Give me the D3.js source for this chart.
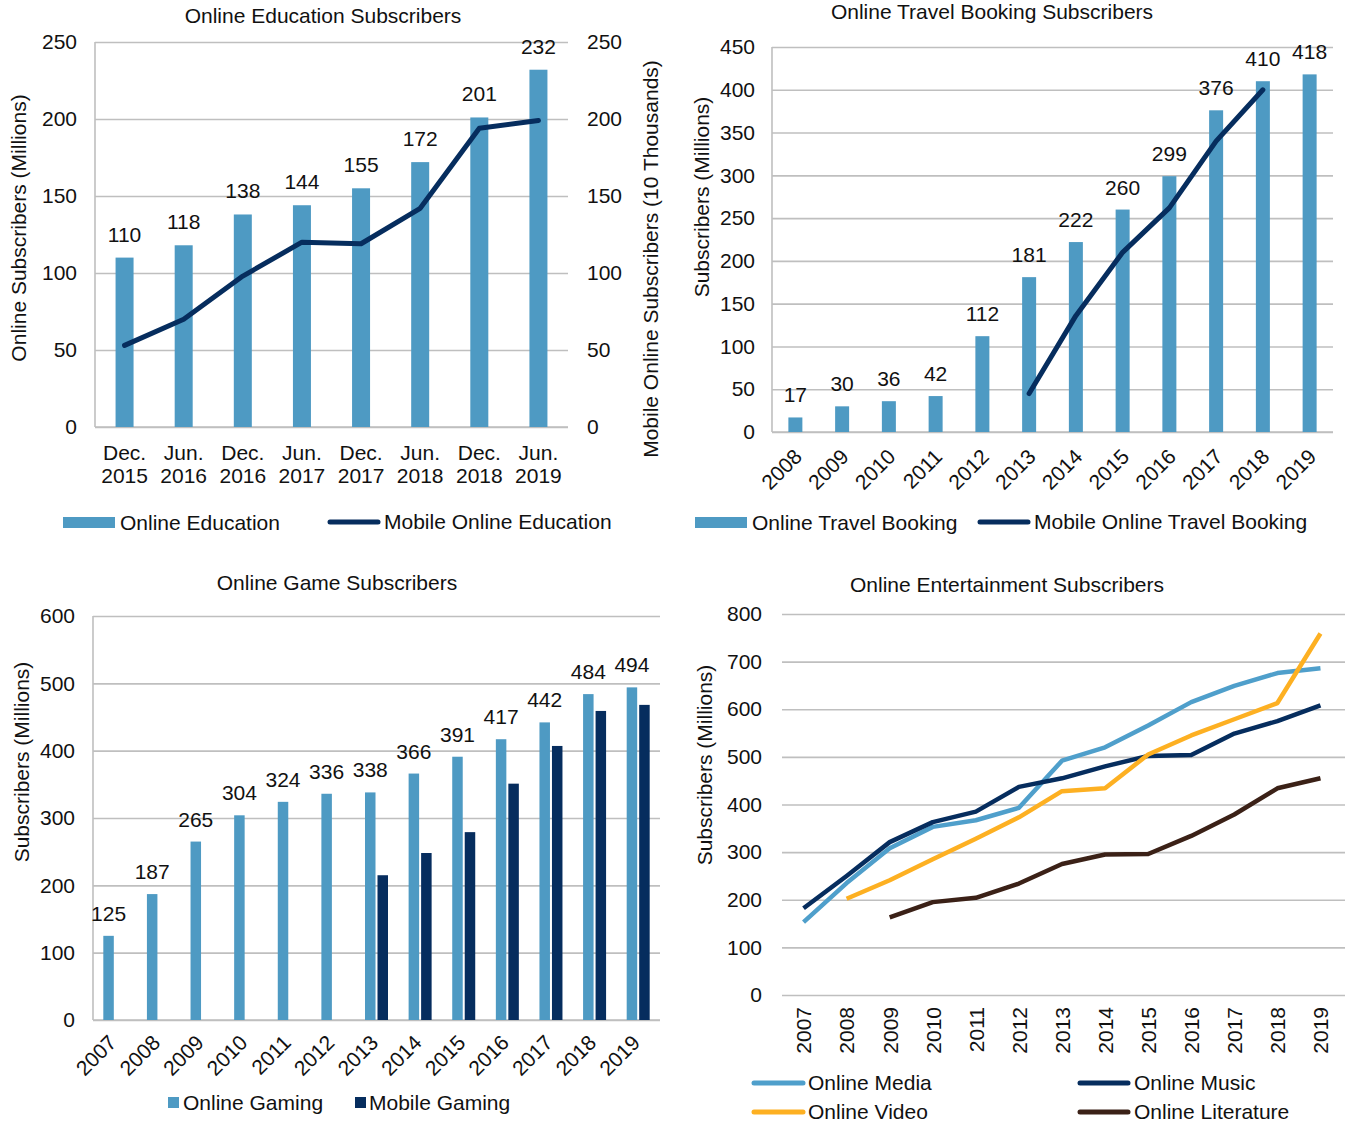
<!DOCTYPE html>
<html>
<head>
<meta charset="utf-8">
<script src="https://cdn.jsdelivr.net/npm/d3@7"></script>
<style>
body{margin:0;background:#fff;}
svg text{font-family:"Liberation Sans",Arial,sans-serif;font-size:21px;fill:#111;}
</style>
</head>
<body>
<svg id="chart" width="1345" height="1122"></svg>
<script>
//Online education (half-yearly)
var eduPeriods = ["Dec. 2015","Jun. 2016","Dec. 2016","Jun. 2017","Dec. 2017","Jun. 2018","Dec. 2018","Jun. 2019"];
var eduOnline = [110,118,138,144,155,172,201,232];
var eduMobile = [53,70,98,120,119,142,194,199];
var eduTicks = [0,50,100,150,200,250];

//Online travel booking
var travelYears = ["2008","2009","2010","2011","2012","2013","2014","2015","2016","2017","2018","2019"];
var travelOnline = [17,30,36,42,112,181,222,260,299,376,410,418];
var travelMobile = [null,null,null,null,null,45,136,210,262,340,400,null];
var travelTicks = [0,50,100,150,200,250,300,350,400,450];

//Online games
var gameYears = ["2007","2008","2009","2010","2011","2012","2013","2014","2015","2016","2017","2018","2019"];
var gameOnline = [125,187,265,304,324,336,338,366,391,417,442,484,494];
var gameMobile = [null,null,null,null,null,null,215,248,279,351,407,459,468];
var gameTicks = [0,100,200,300,400,500,600];

//Online entertainment
var entYears = ["2007","2008","2009","2010","2011","2012","2013","2014","2015","2016","2017","2018","2019"];
var entMedia = [153,235,308,353,367,393,492,520,566,615,649,676,686];
var entMusic = [182,250,321,363,385,437,455,480,502,504,549,575,608];
var entVideo = [null,202,241,285,328,373,428,434,505,545,579,613,759];
var entLiterature = [null,null,163,195,204,234,275,295,296,334,379,434,455];
var entTicks = [0,100,200,300,400,500,600,700,800];

var colors = {
	bar: "#4e9ac3",
	navy: "#062d5e",
	media: "#4f9fcb",
	video: "#fdb022",
	literature: "#3b2117",
	grid: "#bfbfbf"
};

var svg = d3.select("#chart");

//Gridlines + left tick labels, domain removed
function drawGrid(y, x0, x1, ticks, pad){
	var g = svg.append("g")
		.attr("transform", "translate(" + x0 + ",0)")
		.call(d3.axisLeft(y).tickValues(ticks).tickSize(-(x1 - x0)).tickPadding(pad));
	g.select(".domain").remove();
	g.selectAll(".tick line").attr("stroke", colors.grid).attr("stroke-width", 1.6);
	return g;
}

function axisLines(x0, x1, yTop, yBottom){
	svg.append("line").attr("x1", x0).attr("x2", x0).attr("y1", yTop).attr("y2", yBottom)
		.attr("stroke", colors.grid).attr("stroke-width", 1.6);
	svg.append("line").attr("x1", x0).attr("x2", x1).attr("y1", yBottom).attr("y2", yBottom)
		.attr("stroke", colors.grid).attr("stroke-width", 1.6);
}

function title(x, y, str){
	svg.append("text").attr("x", x).attr("y", y).attr("text-anchor", "middle").text(str);
}

function yTitle(x, y, str){
	svg.append("text")
		.attr("text-anchor", "middle")
		.attr("transform", "translate(" + x + "," + y + ") rotate(-90)")
		.text(str);
}

function legendRect(x, y, w, h, color, label, tx){
	svg.append("rect").attr("x", x).attr("y", y).attr("width", w).attr("height", h).attr("fill", color);
	svg.append("text").attr("x", tx).attr("y", y + h / 2).attr("dy", "0.35em").text(label);
}

function legendLine(x1, x2, y, color, label, tx){
	svg.append("line").attr("x1", x1).attr("x2", x2).attr("y1", y).attr("y2", y)
		.attr("stroke", color).attr("stroke-width", 5).attr("stroke-linecap", "round");
	svg.append("text").attr("x", tx).attr("y", y).attr("dy", "0.35em").text(label);
}

//---------- Chart 1: Online Education ----------
(function(){
	var x0 = 95, x1 = 568, yTop = 42, yBottom = 427;
	var x = d3.scaleBand().domain(eduPeriods).range([x0, x1]);
	var y = d3.scaleLinear().domain([0, 250]).range([yBottom, yTop]);
	var yR = d3.scaleLinear().domain([0, 250]).range([yBottom, yTop]);
	var bw = 18;

	drawGrid(y, x0, x1, eduTicks, 18);
	axisLines(x0, x1, yTop, yBottom);

	//Right axis labels
	var r = svg.append("g").attr("transform", "translate(" + x1 + ",0)")
		.call(d3.axisRight(yR).tickValues(eduTicks).tickSize(0).tickPadding(19));
	r.select(".domain").remove();

	svg.append("g").selectAll("rect")
		.data(eduOnline).enter().append("rect")
		.attr("x", function(d, i){ return x(eduPeriods[i]) + x.bandwidth() / 2 - bw / 2; })
		.attr("y", function(d){ return y(d); })
		.attr("width", bw)
		.attr("height", function(d){ return yBottom - y(d); })
		.attr("fill", colors.bar);

	svg.append("path")
		.datum(eduMobile)
		.attr("fill", "none")
		.attr("stroke", colors.navy)
		.attr("stroke-width", 5)
		.attr("stroke-linejoin", "round")
		.attr("stroke-linecap", "round")
		.attr("d", d3.line()
			.x(function(d, i){ return x(eduPeriods[i]) + x.bandwidth() / 2; })
			.y(function(d){ return yR(d); }));

	svg.append("g").selectAll("text")
		.data(eduOnline).enter().append("text")
		.attr("x", function(d, i){ return x(eduPeriods[i]) + x.bandwidth() / 2; })
		.attr("y", function(d){ return y(d) - 16; })
		.attr("text-anchor", "middle")
		.text(function(d){ return d; });

	//Two line category labels
	var xa = svg.append("g").attr("transform", "translate(0," + yBottom + ")")
		.call(d3.axisBottom(x).tickSize(0));
	xa.select(".domain").remove();
	xa.selectAll(".tick text").each(function(d){
		var parts = d.split(" "), t = d3.select(this);
		t.text(null).attr("y", null).attr("dy", null);
		t.append("tspan").attr("x", 0).attr("y", 33).text(parts[0]);
		t.append("tspan").attr("x", 0).attr("y", 56).text(parts[1]);
	});

	title(323, 23, "Online Education Subscribers");
	yTitle(26, 228, "Online Subscribers (Millions)");
	yTitle(658, 259, "Mobile Online Subscribers (10 Thousands)");

	legendRect(63, 517, 52, 11, colors.bar, "Online Education", 120);
	legendLine(330, 378, 522, colors.navy, "Mobile Online Education", 384);
})();

//---------- Chart 2: Online Travel Booking ----------
(function(){
	var x0 = 772, x1 = 1333, yTop = 47, yBottom = 432;
	var x = d3.scaleBand().domain(travelYears).range([x0, x1]);
	var y = d3.scaleLinear().domain([0, 450]).range([yBottom, yTop]);
	var bw = 14;

	drawGrid(y, x0, x1, travelTicks, 17);
	axisLines(x0, x1, yTop, yBottom);

	svg.append("g").selectAll("rect")
		.data(travelOnline).enter().append("rect")
		.attr("x", function(d, i){ return x(travelYears[i]) + x.bandwidth() / 2 - bw / 2; })
		.attr("y", function(d){ return y(d); })
		.attr("width", bw)
		.attr("height", function(d){ return yBottom - y(d); })
		.attr("fill", colors.bar);

	svg.append("path")
		.datum(travelMobile)
		.attr("fill", "none")
		.attr("stroke", colors.navy)
		.attr("stroke-width", 5)
		.attr("stroke-linejoin", "round")
		.attr("stroke-linecap", "round")
		.attr("d", d3.line()
			.defined(function(d){ return d !== null; })
			.x(function(d, i){ return x(travelYears[i]) + x.bandwidth() / 2; })
			.y(function(d){ return y(d); }));

	svg.append("g").selectAll("text")
		.data(travelOnline).enter().append("text")
		.attr("x", function(d, i){ return x(travelYears[i]) + x.bandwidth() / 2; })
		.attr("y", function(d){ return y(d) - 15; })
		.attr("text-anchor", "middle")
		.text(function(d){ return d; });

	var xa = svg.append("g").attr("transform", "translate(0," + yBottom + ")")
		.call(d3.axisBottom(x).tickSize(0));
	xa.select(".domain").remove();
	xa.selectAll(".tick text")
		.attr("y", null).attr("dy", null)
		.attr("text-anchor", "end")
		.attr("transform", "translate(8,26) rotate(-45)");

	title(992, 19, "Online Travel Booking Subscribers");
	yTitle(709, 197, "Subscribers (Millions)");

	legendRect(695, 517, 52, 11, colors.bar, "Online Travel Booking", 752);
	legendLine(980, 1028, 522, colors.navy, "Mobile Online Travel Booking", 1034);
})();

//---------- Chart 3: Online Games ----------
(function(){
	var x0 = 93, x1 = 660, yTop = 616, yBottom = 1020;
	var x = d3.scaleBand().domain(gameYears).range([x0, x1]);
	var y = d3.scaleLinear().domain([0, 600]).range([yBottom, yTop]);
	var bw = 10.5, gap = 1;

	drawGrid(y, x0, x1, gameTicks, 18);
	axisLines(x0, x1, yTop, yBottom);

	svg.append("g").selectAll("rect")
		.data(gameOnline).enter().append("rect")
		.attr("x", function(d, i){ return x(gameYears[i]) + x.bandwidth() / 2 - gap - bw; })
		.attr("y", function(d){ return y(d); })
		.attr("width", bw)
		.attr("height", function(d){ return yBottom - y(d); })
		.attr("fill", colors.bar);

	svg.append("g").selectAll("rect")
		.data(gameMobile).enter()
		.filter(function(d){ return d !== null; })
		.append("rect")
		.attr("x", function(d, i){ return x(gameYears[gameMobile.indexOf(d)]) + x.bandwidth() / 2 + gap; })
		.attr("y", function(d){ return y(d); })
		.attr("width", bw)
		.attr("height", function(d){ return yBottom - y(d); })
		.attr("fill", colors.navy);

	svg.append("g").selectAll("text")
		.data(gameOnline).enter().append("text")
		.attr("x", function(d, i){ return x(gameYears[i]) + x.bandwidth() / 2 - gap - bw / 2; })
		.attr("y", function(d){ return y(d) - 15; })
		.attr("text-anchor", "middle")
		.text(function(d){ return d; });

	var xa = svg.append("g").attr("transform", "translate(0," + yBottom + ")")
		.call(d3.axisBottom(x).tickSize(0));
	xa.select(".domain").remove();
	xa.selectAll(".tick text")
		.attr("y", null).attr("dy", null)
		.attr("text-anchor", "end")
		.attr("transform", "translate(3,24) rotate(-45)");

	title(337, 590, "Online Game Subscribers");
	yTitle(29, 762, "Subscribers (Millions)");

	legendRect(168, 1097, 11, 11, colors.bar, "Online Gaming", 183);
	legendRect(355, 1097, 11, 11, colors.navy, "Mobile Gaming", 369);
})();

//---------- Chart 4: Online Entertainment ----------
(function(){
	var x0 = 782, x1 = 1342, yTop = 614, yBottom = 995;
	var x = d3.scalePoint().domain(entYears).range([x0, x1]).padding(0.5);
	var y = d3.scaleLinear().domain([0, 800]).range([yBottom, yTop]);

	var g = drawGrid(y, x0, 1345, entTicks, 20);

	var series = [
		{name: "Online Media", values: entMedia, color: colors.media},
		{name: "Online Music", values: entMusic, color: colors.navy},
		{name: "Online Video", values: entVideo, color: colors.video},
		{name: "Online Literature", values: entLiterature, color: colors.literature}
	];

	var line = d3.line()
		.defined(function(d){ return d !== null; })
		.x(function(d, i){ return x(entYears[i]); })
		.y(function(d){ return y(d); });

	svg.append("g").selectAll("path")
		.data(series).enter().append("path")
		.attr("fill", "none")
		.attr("stroke", function(d){ return d.color; })
		.attr("stroke-width", 4.5)
		.attr("stroke-linejoin", "round")
		.attr("d", function(d){ return line(d.values); });

	var xa = svg.append("g").attr("transform", "translate(0," + yBottom + ")")
		.call(d3.axisBottom(x).tickSize(0));
	xa.select(".domain").remove();
	xa.selectAll(".tick text")
		.attr("y", null).attr("dy", "0.35em")
		.attr("text-anchor", "end")
		.attr("transform", "translate(0,12) rotate(-90)");

	title(1007, 592, "Online Entertainment Subscribers");
	yTitle(712, 765, "Subscribers (Millions)");

	legendLine(754, 803, 1083, colors.media, "Online Media", 808);
	legendLine(1080, 1128, 1083, colors.navy, "Online Music", 1134);
	legendLine(754, 803, 1112, colors.video, "Online Video", 808);
	legendLine(1080, 1128, 1112, colors.literature, "Online Literature", 1134);
})();
</script>
</body>
</html>
